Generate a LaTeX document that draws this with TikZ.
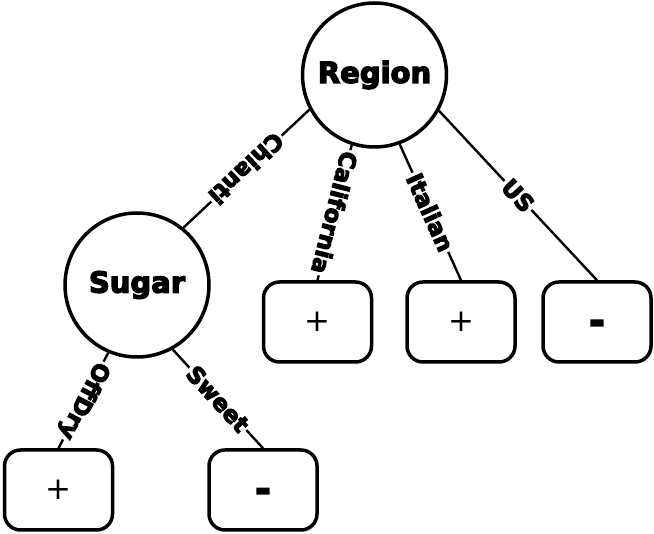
\documentclass[tikz,border=0pt]{standalone}
\usepackage{fontspec}
\setmainfont{DejaVu Sans}[BoldFeatures={FakeBold=4.5}]
\begin{document}
\begin{tikzpicture}[x=1pt,y=-1pt,
  attr/.style={circle, draw, line width=3.5pt, minimum size=144pt, inner sep=0pt,
    font=\bfseries\fontsize{29}{31}\selectfont},
  leaf/.style={draw, line width=3.5pt, rounded corners=16pt, minimum width=108pt,
    minimum height=80pt, inner sep=0pt},
  branch/.style={line width=2.4pt},
  val/.style={midway, sloped, allow upside down, fill=white, inner sep=2pt,
    font=\bfseries\fontsize{23}{25}\selectfont},
  posleaf/.style={leaf, font=\fontsize{31}{33}\selectfont,
    text height=19.5pt, text depth=0pt},
  negleaf/.style={leaf, font=\bfseries\fontsize{38}{40}\selectfont,
    text height=24pt, text depth=0pt}]
\useasboundingbox (0,0) rectangle (654,534);
% decision nodes
\node[attr] (region) at (374.5,75) {Region};
\node[attr] (sugar) at (137,285) {Sugar};
% leaves
\node[posleaf] (cal) at (317.5,322) {+};
\node[posleaf] (ita) at (461,322) {+};
\node[negleaf] (us) at (597,322) {-};
\node[posleaf] (dry) at (58.5,490) {+};
\node[negleaf] (sweet) at (263,490) {-};
% branches with their values
\draw[branch] (region.-152) -- node[val] {Chianti} (sugar.51);
\draw[branch] (region.-108.6) -- node[val] {California} (cal.north);
\draw[branch] (region.-70.9) -- node[val] {Italian} (ita.north);
\draw[branch] (region.-29.3) -- node[val] {US} (us.north);
\draw[branch] (sugar.-113.8) -- node[val] {OffDry} (dry.north);
\draw[branch] (sugar.-61.4) -- node[val] {Sweet} (sweet.north);
\end{tikzpicture}
\end{document}
